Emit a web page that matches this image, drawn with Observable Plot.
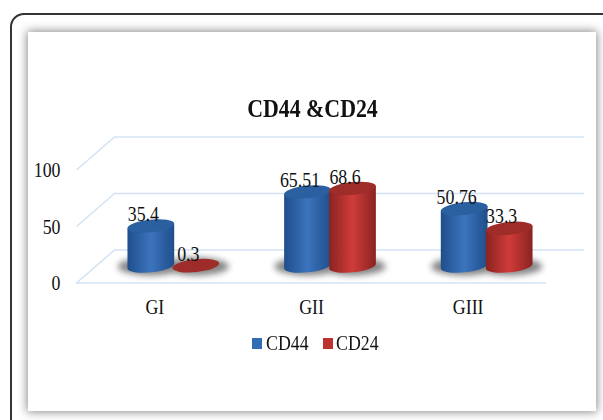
<!DOCTYPE html>
<html>
<head>
<meta charset="utf-8">
<title>CD44 &amp; CD24</title>
<script src="https://cdn.jsdelivr.net/npm/d3@7"></script>
<script src="https://cdn.jsdelivr.net/npm/@observablehq/plot@0.6"></script>
<style>
  html, body { margin: 0; padding: 0; background: #fff; overflow: hidden; }
  #page { position: relative; width: 603px; height: 420px; overflow: hidden; font-family: "Liberation Serif", serif; color: #111; }
  #outline { position: absolute; left: 10px; top: 13px; width: 640px; height: 460px; border: 2px solid #333; border-radius: 14px; }
  #panel { position: absolute; left: 28px; top: 32px; width: 568px; height: 379px; background: #fff; box-shadow: 0 0 9px 1px #8a8a8a; }
  #title { position: absolute; left: 0; width: 625px; top: 95px; text-align: center; font-size: 25px; font-weight: bold; line-height: 28px; transform: scaleX(0.875); transform-origin: 312.5px 0; }
  #legend { position: absolute; left: 252px; top: 330px; height: 26px; font-size: 22px; line-height: 26px; }
  #legend i { position: absolute; top: 8px; width: 10px; height: 11px; }
  #legend span { position: absolute; top: 0; transform: scaleX(0.81); transform-origin: 0 0; }
  #chart { position: absolute; left: 0; top: 0; }
</style>
</head>
<body>
<div id="page">
  <div id="outline"></div>
  <div id="panel"></div>
  <div id="chart"></div>
  <div id="title"></div>
  <div id="legend"></div>
</div>
<script>
// Expression levels per tumour grade
const chartTitle = "CD44 &CD24";
const groups = ["GI", "GII", "GIII"];
const seriesNames = ["CD44", "CD24"];
const cd44Values = [35.4, 65.51, 50.76];
const cd24Values = [0.3, 68.6, 33.3];
const valueTicks = [0, 50, 100];

// Per-series shading: edge, highlight and cap
const shades = {
  CD44: {edge: "#1f4e8b", mid: "#3c74bd", cap: "#2a609f", swatch: "#2f6db5"},
  CD24: {edge: "#8a2321", mid: "#cf3c39", cap: "#9e2c29", swatch: "#bb3230"}
};

// Oblique floor depth, in data units of each axis
const depthX = 38 / 156.67;
const depthY = 29.2;
const barSpan = 47 / 156.67;
const barStep = 45 / 156.67;

const rows = groups.flatMap((group, g) => [
  {group, g, series: "CD44", k: 0, value: cd44Values[g]},
  {group, g, series: "CD24", k: 1, value: cd24Values[g]}
]);

const left = d => d.g + 0.5 + depthX / 2 - barStep / 2 - barSpan / 2 + d.k * barStep;
const baseY = depthY / 2;

// Draws each rect of the mark as a tilted 3D cylinder with a soft floor shadow
function cylinders(data) {
  return Plot.rect(data, {
    x1: left,
    x2: d => left(d) + barSpan,
    y1: baseY,
    y2: d => baseY + d.value,
    fill: "series",
    render(index, scales, values) {
      const g = d3.create("svg:g");
      const defs = g.append("defs");
      const blur = defs.append("filter").attr("id", "floor-blur")
        .attr("x", "-30%").attr("y", "-60%").attr("width", "160%").attr("height", "220%");
      blur.append("feGaussianBlur").attr("stdDeviation", 3.2);
      for (const name of seriesNames) {
        const s = shades[name];
        const grad = defs.append("linearGradient").attr("id", "side-" + name)
          .attr("x1", 0).attr("x2", 1).attr("y1", 0).attr("y2", 0);
        grad.append("stop").attr("offset", "0%").attr("stop-color", s.edge);
        grad.append("stop").attr("offset", "50%").attr("stop-color", s.mid);
        grad.append("stop").attr("offset", "100%").attr("stop-color", s.edge);
      }
      const rx = 23.5, ry = 6.4, tilt = -6;
      const ordered = Array.from(index);
      // Shadows go first so that no cylinder is darkened by its neighbour's
      const shadows = g.append("g").attr("filter", "url(#floor-blur)").attr("opacity", 0.72);
      for (const i of ordered) {
        const cx = (values.x1[i] + values.x2[i]) / 2;
        shadows.append("ellipse")
          .attr("cx", cx).attr("cy", values.y1[i] + 0.5)
          .attr("rx", 33).attr("ry", 9)
          .attr("fill", "#555");
      }
      for (const i of ordered) {
        const d = data[i];
        const s = shades[d.series];
        const cx = (values.x1[i] + values.x2[i]) / 2;
        const yb = values.y1[i], yt = values.y2[i];
        const rad = tilt * Math.PI / 180;
        const ex = rx * Math.cos(rad), ey = rx * Math.sin(rad);
        const arc = `A${rx},${ry} ${tilt} 0 `;
        if (yb - yt > 2) {
          g.append("path")
            .attr("d", `M${cx - ex},${yt - ey}L${cx - ex},${yb - ey}` +
              `${arc}0 ${cx + ex},${yb + ey}L${cx + ex},${yt + ey}Z`)
            .attr("fill", `url(#side-${d.series})`);
        }
        g.append("ellipse")
          .attr("rx", rx).attr("ry", ry)
          .attr("transform", `translate(${cx},${yt}) rotate(${tilt})`)
          .attr("fill", s.cap);
      }
      return g.node();
    }
  });
}

const gridColor = "#d3e3f3";

const plot = Plot.plot({
  width: 603,
  height: 420,
  marginLeft: 76,
  marginRight: 57,
  marginTop: 169.5,
  marginBottom: 137.5,
  style: {background: "transparent", fontFamily: "Liberation Serif, serif", fontSize: "22px", color: "#111", overflow: "visible"},
  x: {domain: [0, groups.length], axis: null},
  y: {domain: [0, 100], axis: null},
  color: {domain: seriesNames, range: seriesNames.map(n => shades[n].swatch)},
  marks: [
    // Back wall gridlines, floor baseline and the oblique side edges
    Plot.ruleY(valueTicks, {y: v => v + depthY, x1: depthX, x2: groups.length + depthX, stroke: gridColor, strokeWidth: 1.5}),
    Plot.link(valueTicks, {x1: 0, x2: depthX, y1: v => v, y2: v => v + depthY, stroke: gridColor, strokeWidth: 1.5}),
    Plot.ruleY([0], {x1: 0, x2: groups.length, stroke: gridColor, strokeWidth: 1.5}),
    Plot.axisY(valueTicks, {tickSize: 0, tickPadding: 16, label: null}),
    Plot.axisX(groups.map((_, g) => g + 0.5), {tickSize: 0, tickPadding: 15, label: null, tickFormat: v => groups[Math.floor(v)]}),
    cylinders(rows),
    Plot.text(rows, {
      x: d => left(d) + barSpan / 2,
      y: d => baseY + d.value,
      text: d => String(d.value),
      dx: -8,
      dy: -12.5,
      fill: "#111"
    })
  ]
});
document.getElementById("chart").append(plot);

// The chart's serif type is set tall and narrow
plot.querySelectorAll("text").forEach(t => {
  const len = t.getComputedTextLength();
  if (len > 0) {
    t.setAttribute("textLength", (len * 0.81).toFixed(2));
    t.setAttribute("lengthAdjust", "spacingAndGlyphs");
  }
});

document.getElementById("title").textContent = chartTitle;
const legend = d3.select("#legend");
seriesNames.forEach((name, i) => {
  const step = 70.5;
  legend.append("i").style("left", `${i * step}px`).style("background", shades[name].swatch);
  legend.append("span").style("left", `${i * step + 13.5}px`).text(name);
});
</script>
</body>
</html>
